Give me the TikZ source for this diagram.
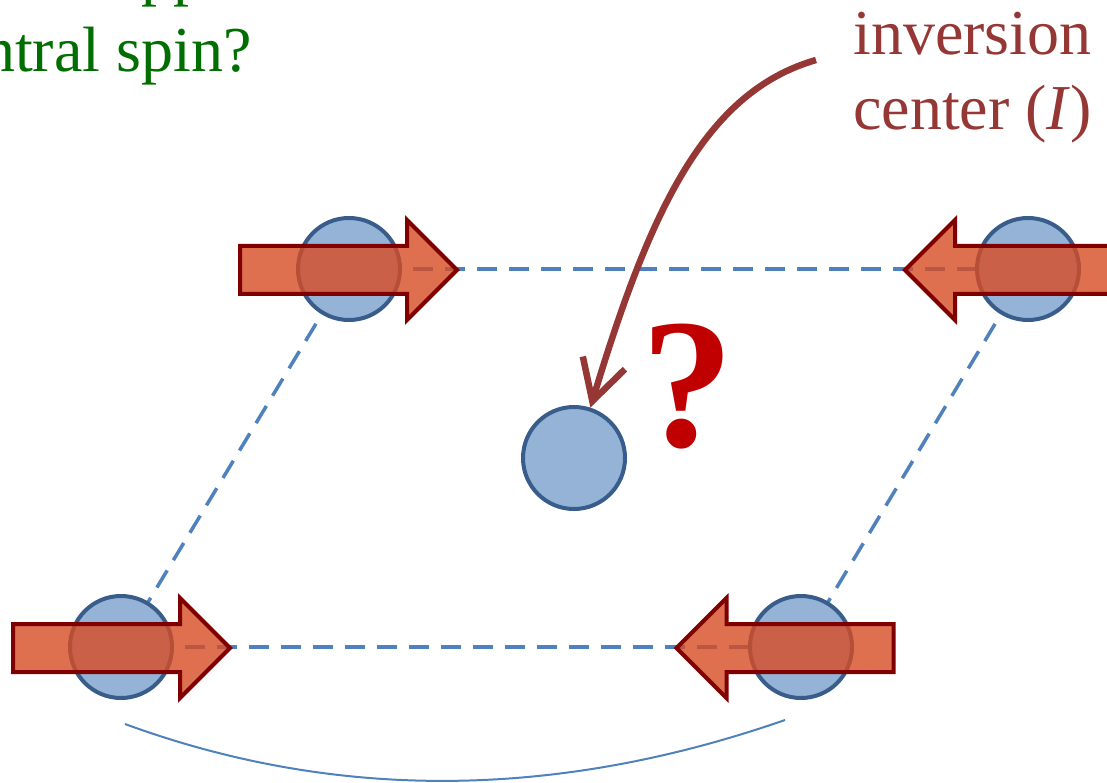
\documentclass[tikz,border=0pt]{standalone}
\usepackage{fontspec}
\setmainfont{Liberation Serif}
\usetikzlibrary{arrows.meta,backgrounds}
\definecolor{atomfill}{RGB}{149,179,215}
\definecolor{atomline}{RGB}{56,93,138}
\definecolor{bondblue}{RGB}{79,129,189}
\definecolor{spinfill}{RGB}{214,76,36}
\definecolor{spinline}{RGB}{128,0,0}
\definecolor{invred}{RGB}{149,55,53}
\definecolor{qred}{RGB}{192,0,0}
\definecolor{qgreen}{RGB}{0,110,0}
\tikzset{
 atom/.style={circle,minimum size=102pt,inner sep=0pt,fill=atomfill,draw=atomline,line width=4pt},
 bond/.style={draw=bondblue,line width=3.5pt,dash pattern=on 20pt off 12pt},
 spinarrow/.style={fill=spinfill,fill opacity=0.8,draw=spinline,line width=4pt,miter limit=10},
 spinpic/.pic={\path[spinarrow] (-108.5,-24) -- (58.5,-24) -- (58.5,-50) -- (108.5,0) -- (58.5,50) -- (58.5,24) -- (-108.5,24) -- cycle;},
 label/.style={anchor=base west,align=left,inner sep=0pt,font=\fontsize{64}{75}\selectfont}
}
\begin{document}
\begin{tikzpicture}[x=1pt,y=-1pt]
\useasboundingbox (0,0) rectangle (1107,783);
\clip (0,0) rectangle (1107,783);
% atoms
\node[atom] (tl) at (349,269) {};
\node[atom] (tr) at (1028,269) {};
\node[atom] (bl) at (121,647) {};
\node[atom] (br) at (801,647) {};
\node[atom] (cc) at (574,458) {};
% bonds
\begin{scope}[on background layer]
\draw[bond] (tl.center) -- (tr.center);
\draw[bond] (bl.center) -- (br.center);
\draw[bond] (tl.center) -- (bl.center);
\draw[bond] (tr.center) -- (br.center);
\end{scope}
% spins
\pic (s1) at (348.5,270) {spinpic};
\pic[xscale=-1] (s2) at (1013.5,270) {spinpic};
\pic (s3) at (121.5,648) {spinpic};
\pic[xscale=-1] (s4) at (785,648) {spinpic};
% labels (base anchor = last line)
\node[label,text=invred] (inv) at (853,130) {inversion\\center (\textit{I})};
\node[label,text=qgreen,font=\fontsize{64}{78}\selectfont] (quest) at (-74,72) {What happens to the\\central spin?};
\node[text=qred,inner sep=0pt,font=\fontsize{185}{185}\selectfont\bfseries] (qm) at (688,387) {?};
% inversion arrow
\coordinate (invstart) at (816,60);
\draw[invred,line width=6.5pt,-{Straight Barb[length=40pt,width=44pt]}] (invstart) .. controls (705,92) and (650,210) .. (cc.72);
% bottom curve
\coordinate (cl) at (125,724);
\coordinate (cr) at (785,720);
\draw[bondblue,line width=2pt] (cl) .. controls (335,801) and (555,800) .. (cr);
\end{tikzpicture}
\end{document}
